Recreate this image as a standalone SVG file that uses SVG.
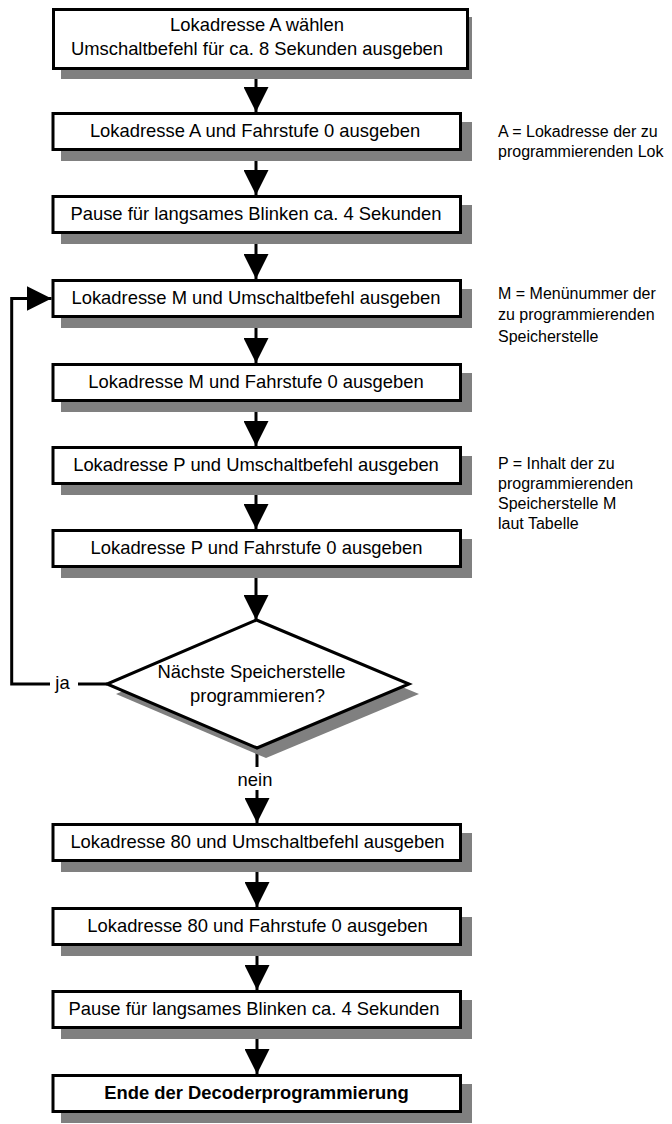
<svg xmlns="http://www.w3.org/2000/svg" width="672" height="1124" viewBox="0 0 672 1124">
<style>
text{font-family:"Liberation Sans",Arial,Helvetica,sans-serif;fill:#000}
.t{font-size:18.4px;text-anchor:middle}
.b{font-size:18.4px;text-anchor:middle;font-weight:bold}
.n{font-size:16px}
.box{fill:#fff;stroke:#000;stroke-width:3}
.sh{fill:#808080;stroke:none}
.c{fill:none;stroke:#000;stroke-width:3;stroke-linejoin:miter}
</style>
<defs>
<marker id="arr" markerUnits="userSpaceOnUse" markerWidth="25" markerHeight="25" viewBox="0 0 25 25" refX="25" refY="12.5" orient="auto">
<path d="M0,0 L25,12.5 L0,25 z" fill="#000"/>
</marker>
</defs>
<rect width="672" height="1124" fill="#fff"/>

<g id="connectors">
<line class="c" x1="256" y1="70" x2="256" y2="112" marker-end="url(#arr)"/>
<line class="c" x1="256" y1="151" x2="256" y2="195" marker-end="url(#arr)"/>
<line class="c" x1="256" y1="234" x2="256" y2="279" marker-end="url(#arr)"/>
<line class="c" x1="256" y1="318" x2="256" y2="363" marker-end="url(#arr)"/>
<line class="c" x1="256" y1="402" x2="256" y2="446" marker-end="url(#arr)"/>
<line class="c" x1="256" y1="485" x2="256" y2="529" marker-end="url(#arr)"/>
<line class="c" x1="256" y1="568" x2="256" y2="620" marker-end="url(#arr)"/>
<line class="c" x1="257" y1="748" x2="257" y2="767"/>
<line class="c" x1="257" y1="790" x2="257" y2="823" marker-end="url(#arr)"/>
<line class="c" x1="257" y1="862" x2="257" y2="907" marker-end="url(#arr)"/>
<line class="c" x1="257" y1="946" x2="257" y2="990" marker-end="url(#arr)"/>
<line class="c" x1="257" y1="1029" x2="257" y2="1074" marker-end="url(#arr)"/>
<line class="c" x1="107" y1="684" x2="78" y2="684"/>
<polyline class="c" points="50,684 11.7,684 11.7,298.5 51.5,298.5" marker-end="url(#arr)"/>
<text class="t" x="62.5" y="689">ja</text>
<text class="t" x="255" y="786">nein</text>
</g>

<g id="n1">
<rect class="sh" x="61" y="17" width="411" height="62"/>
<rect class="box" x="53.5" y="9.5" width="414" height="59"/>
<text class="t" x="257" y="31">Lokadresse A wählen</text>
<text class="t" x="257" y="54.5">Umschaltbefehl für ca. 8 Sekunden ausgeben</text>
</g>

<g id="n2">
<rect class="sh" x="61" y="122" width="411" height="39"/>
<rect class="box" x="53" y="113.5" width="407.5" height="36"/>
<text class="t" x="255" y="137">Lokadresse A und Fahrstufe 0 ausgeben</text>
</g>

<g id="n3">
<rect class="sh" x="61" y="205" width="411" height="39"/>
<rect class="box" x="53" y="196.5" width="407.5" height="36"/>
<text class="t" x="256" y="220">Pause für langsames Blinken ca. 4 Sekunden</text>
</g>

<g id="n4">
<rect class="sh" x="61" y="289" width="411" height="39"/>
<rect class="box" x="53" y="280.5" width="407.5" height="36"/>
<text class="t" x="256" y="304">Lokadresse M und Umschaltbefehl ausgeben</text>
</g>

<g id="n5">
<rect class="sh" x="61" y="373" width="411" height="39"/>
<rect class="box" x="53" y="364.5" width="407.5" height="36"/>
<text class="t" x="256" y="388">Lokadresse M und Fahrstufe 0 ausgeben</text>
</g>

<g id="n6">
<rect class="sh" x="61" y="456" width="411" height="39"/>
<rect class="box" x="53" y="447.5" width="407.5" height="36"/>
<text class="t" x="256" y="471">Lokadresse P und Umschaltbefehl ausgeben</text>
</g>

<g id="n7">
<rect class="sh" x="61" y="539" width="411" height="39"/>
<rect class="box" x="53" y="530.5" width="407.5" height="36"/>
<text class="t" x="256.5" y="554">Lokadresse P und Fahrstufe 0 ausgeben</text>
</g>

<g id="d1">
<polygon class="sh" points="265.5,630 419,694 266,758 116,694"/>
<polygon class="box" points="256.5,620 409,684 257,748 107,684"/>
<text class="t" x="251.5" y="678">Nächste Speicherstelle</text>
<text class="t" x="257.5" y="702">programmieren?</text>
</g>

<g id="n8">
<rect class="sh" x="61" y="833" width="411" height="39"/>
<rect class="box" x="53" y="824.5" width="407.5" height="36"/>
<text class="t" x="257.5" y="848">Lokadresse 80 und Umschaltbefehl ausgeben</text>
</g>

<g id="n9">
<rect class="sh" x="61" y="917" width="411" height="39"/>
<rect class="box" x="53" y="908.5" width="407.5" height="36"/>
<text class="t" x="257.5" y="932">Lokadresse 80 und Fahrstufe 0 ausgeben</text>
</g>

<g id="n10">
<rect class="sh" x="61" y="1000" width="411" height="39"/>
<rect class="box" x="53" y="991.5" width="407.5" height="36"/>
<text class="t" x="254" y="1015">Pause für langsames Blinken ca. 4 Sekunden</text>
</g>

<g id="n11">
<rect class="sh" x="61" y="1084" width="411" height="39"/>
<rect class="box" x="53" y="1075.5" width="407.5" height="36"/>
<text class="b" x="256.5" y="1099">Ende der Decoderprogrammierung</text>
</g>

<g id="noteA">
<text class="n" x="498" y="137">A = Lokadresse der zu</text>
<text class="n" x="498" y="156.5">programmierenden Lok</text>
</g>

<g id="noteM">
<text class="n" x="498" y="298.5">M = Menünummer der</text>
<text class="n" x="498" y="320">zu programmierenden</text>
<text class="n" x="498" y="341.5">Speicherstelle</text>
</g>

<g id="noteP">
<text class="n" x="498" y="469">P = Inhalt der zu</text>
<text class="n" x="498" y="489">programmierenden</text>
<text class="n" x="498" y="509">Speicherstelle M</text>
<text class="n" x="498" y="528.5">laut Tabelle</text>
</g>
</svg>
